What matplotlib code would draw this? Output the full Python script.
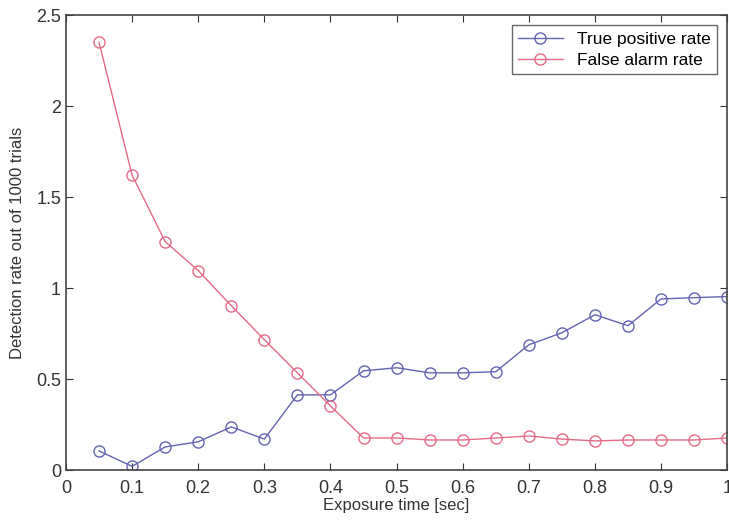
import numpy as np
import matplotlib.pyplot as plt

plt.rcParams['font.family'] = ['Liberation Sans', 'DejaVu Sans']

exposure = [0.05, 0.10, 0.15, 0.20, 0.25, 0.30, 0.35, 0.40, 0.45, 0.50,
            0.55, 0.60, 0.65, 0.70, 0.75, 0.80, 0.85, 0.90, 0.95, 1.00]
true_pos = [0.105, 0.02, 0.127, 0.155, 0.237, 0.17, 0.413, 0.413, 0.545, 0.562,
            0.534, 0.534, 0.54, 0.688, 0.754, 0.853, 0.793, 0.94, 0.947, 0.953]
false_alarm = [2.35, 1.62, 1.255, 1.096, 0.903, 0.716, 0.534, 0.352, 0.176, 0.176,
               0.165, 0.165, 0.176, 0.187, 0.17, 0.16, 0.165, 0.165, 0.165, 0.176]

xticks = [0, 0.1, 0.2, 0.3, 0.4, 0.5, 0.6, 0.7, 0.8, 0.9, 1]
xtick_labels = ['0', '0.1', '0.2', '0.3', '0.4', '0.5', '0.6', '0.7', '0.8', '0.9', '1']
yticks = [0, 0.5, 1, 1.5, 2, 2.5]
ytick_labels = ['0', '0.5', '1', '1.5', '2', '2.5']

fig = plt.figure(figsize=(7.29, 5.23), dpi=100)
ax = fig.add_axes([0.0905, 0.1013, 0.907, 0.870])

blue = '#6464b4'
red = '#e66a86'
ax.plot(exposure, true_pos, '-o', color=blue, mfc='none', ms=8, lw=1,
        label='True positive rate')
ax.plot(exposure, false_alarm, '-o', color=red, mfc='none', ms=8, lw=1,
        label='False alarm rate')

ax.set_xlim(0, 1)
ax.set_ylim(0, 2.5)
ax.set_xticks(xticks)
ax.set_xticklabels(xtick_labels)
ax.set_yticks(yticks)
ax.set_yticklabels(ytick_labels)
ax.tick_params(direction='in', top=True, right=True, length=5, labelsize=13,
               colors='#333333')
ax.tick_params(axis='x', pad=7)
for s in ax.spines.values():
    s.set_color('#444444')
    s.set_linewidth(1.2)

ax.set_xlabel('Exposure time [sec]', fontsize=12, labelpad=1, color='#333333')
ax.set_ylabel('Detection rate out of 1000 trials', fontsize=12, labelpad=8,
              color='#333333')

leg = ax.legend(loc='upper right', fontsize=12.5, fancybox=False,
                edgecolor='#444444', borderaxespad=0.6, handlelength=2.6,
                borderpad=0.35, labelspacing=0.35)
leg.get_frame().set_linewidth(1.0)

plt.savefig('out.png')
